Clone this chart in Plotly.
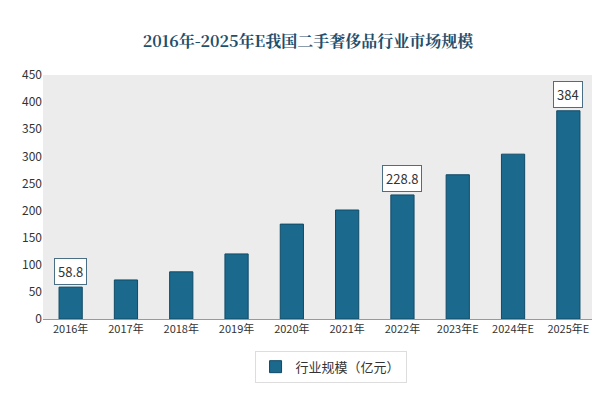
import plotly.graph_objects as go

categories = ["2016年","2017年","2018年","2019年","2020年","2021年","2022年","2023年E","2024年E","2025年E"]
values = [58.8, 72, 87, 120, 175, 201, 228.8, 266, 304, 384]
labeled = [0, 6, 9]
y_ticks = [0, 50, 100, 150, 200, 250, 300, 350, 400, 450]

fig = go.Figure(go.Bar(x=categories, y=values, name="行业规模（亿元）",
                       marker=dict(color="#1b6a8e", line=dict(color="#0f4a66", width=1)),
                       width=0.42))
for i in labeled:
    fig.add_annotation(x=categories[i], y=values[i], text=f"{values[i]:g}", yshift=16,
                       showarrow=False, bordercolor="#4a6f85", borderwidth=1, borderpad=3,
                       bgcolor="white", font=dict(size=13, color="#333"))
fig.update_layout(
    width=600, height=400, paper_bgcolor="white", plot_bgcolor="#ececec",
    margin=dict(l=35, r=12, t=67, b=89, autoexpand=False),
    title=dict(text="<b>2016年-2025年E我国二手奢侈品行业市场规模</b>", x=0.5, xanchor="center", y=0.93,
               font=dict(family="Noto Serif CJK SC, Noto Sans CJK SC", size=16, color="#1f4f6c")),
    font=dict(family="Noto Sans CJK SC", size=12, color="#333"),
    xaxis=dict(showgrid=False, linecolor="#999", ticks="", tickfont=dict(size=11)),
    yaxis=dict(range=[0, 450], tickvals=y_ticks, showgrid=False, zeroline=False, tickfont=dict(size=12)),
    showlegend=True,
    legend=dict(orientation="h", x=0.52, xanchor="center", y=-0.13, yanchor="top",
                bordercolor="#ddd", borderwidth=1, font=dict(size=13)),
)
fig.write_html("out.html")
